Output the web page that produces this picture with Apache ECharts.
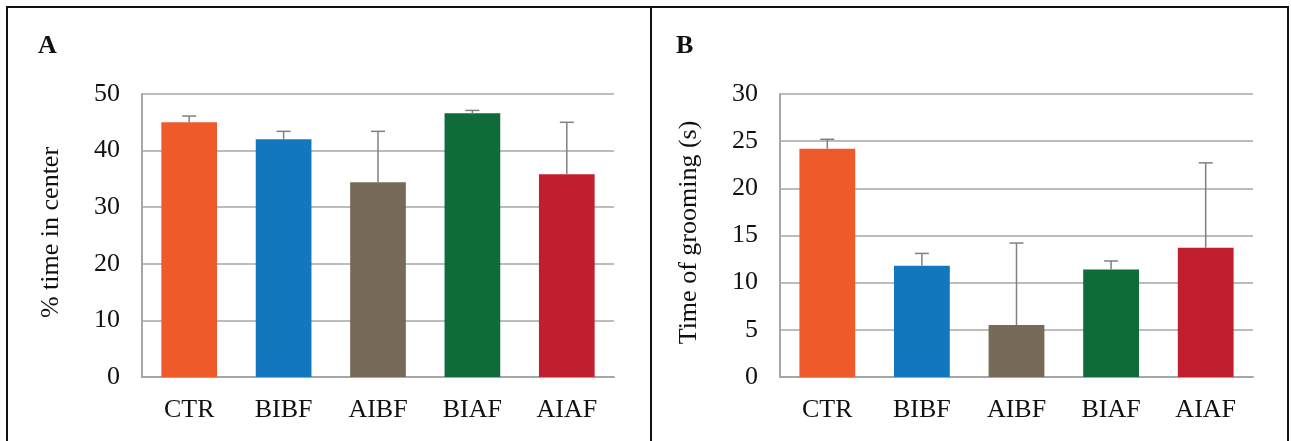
<!DOCTYPE html>
<html><head><meta charset="utf-8">
<script src="https://cdn.jsdelivr.net/npm/echarts@6/dist/echarts.min.js"></script>
<style>html,body{margin:0;padding:0;background:#fff}#c{width:1291px;height:441px}</style>
</head><body><div id="c"></div>
<script>
const categories = ['CTR', 'BIBF', 'AIBF', 'BIAF', 'AIAF'];
const barColors = ['#ef5a2a', '#1277bd', '#776a58', '#106b3a', '#c11f2f'];
const centerMeans = [45.0, 42.0, 34.4, 46.6, 35.8];
const centerErrs = [1.1, 1.4, 9.0, 0.5, 9.2];
const groomMeans = [24.2, 11.8, 5.5, 11.4, 13.7];
const groomErrs = [1.0, 1.3, 8.7, 0.9, 9.0];
const yTicksA = [0, 10, 20, 30, 40, 50];
const yTicksB = [0, 5, 10, 15, 20, 25, 30];

const FONT = '"Liberation Serif", "Times New Roman", serif';
const chart = echarts.init(document.getElementById('c'), null, {renderer: 'canvas'});

function errSeries(idx, means, errs) {
  return {
    type: 'custom', xAxisIndex: idx, yAxisIndex: idx, z: 5, silent: true,
    data: means.map((m, i) => [i, m, m + errs[i]]),
    renderItem: function (params, api) {
      const base = api.coord([api.value(0), api.value(1)]);
      const top = api.coord([api.value(0), api.value(2)]);
      const hw = 7;
      const st = {stroke: '#808080', lineWidth: 1.5};
      return {type: 'group', children: [
        {type: 'line', shape: {x1: base[0], y1: base[1], x2: top[0], y2: top[1]}, style: st},
        {type: 'line', shape: {x1: top[0] - hw, y1: top[1], x2: top[0] + hw, y2: top[1]}, style: st}
      ]};
    }
  };
}
function barSeries(idx, means) {
  return {
    type: 'bar', xAxisIndex: idx, yAxisIndex: idx, barWidth: '59%',
    data: means.map((v, i) => ({value: v, itemStyle: {color: barColors[i]}}))
  };
}
function xAx(idx) {
  return {type: 'category', gridIndex: idx, data: categories,
    axisLine: {lineStyle: {color: '#a6a6a6', width: 2}}, axisTick: {show: false},
    axisLabel: {color: '#111', fontFamily: FONT, fontSize: 26, margin: 20}};
}
function yAx(idx, ticks, name) {
  const step = ticks[1] - ticks[0];
  return {type: 'value', gridIndex: idx, min: ticks[0], max: ticks[ticks.length - 1], interval: step,
    name: name, nameLocation: 'middle', nameRotate: 90, nameGap: 78,
    nameTextStyle: {color: '#111', fontFamily: FONT, fontSize: 26, padding: [0, 0, 0, 6]},
    axisLine: {show: true, lineStyle: {color: '#a6a6a6', width: 2}}, axisTick: {show: false},
    splitLine: {lineStyle: {color: '#a6a6a6', width: 1.5}},
    axisLabel: {color: '#111', fontFamily: FONT, fontSize: 26, margin: 22}};
}

chart.setOption({
  animation: false,
  backgroundColor: '#fff',
  grid: [
    {left: 142, width: 472, top: 94, bottom: 64},
    {left: 780, width: 473, top: 94, bottom: 64}
  ],
  xAxis: [xAx(0), xAx(1)],
  yAxis: [yAx(0, yTicksA, '% time in center'), yAx(1, yTicksB, 'Time of grooming (s)')],
  series: [barSeries(0, centerMeans), errSeries(0, centerMeans, centerErrs),
           barSeries(1, groomMeans), errSeries(1, groomMeans, groomErrs)],
  graphic: [
    {type: 'rect', shape: {x: 7, y: 7, width: 1281, height: 460}, style: {fill: 'none', stroke: '#111', lineWidth: 2}, z: 100},
    {type: 'line', shape: {x1: 651, y1: 7, x2: 651, y2: 441}, style: {stroke: '#111', lineWidth: 2}, z: 100},
    {type: 'text', left: 38, top: 33, style: {text: 'A', font: 'bold 26px ' + FONT, fill: '#111'}},
    {type: 'text', left: 676, top: 33, style: {text: 'B', font: 'bold 26px ' + FONT, fill: '#111'}}
  ]
});
</script></body></html>
